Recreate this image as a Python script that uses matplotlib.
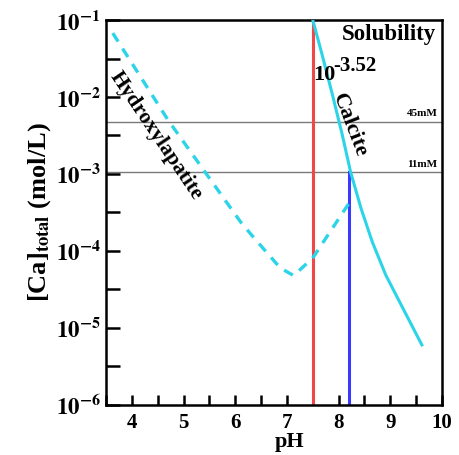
import numpy as np
import matplotlib
matplotlib.use("Agg")
import matplotlib.pyplot as plt

plt.rcParams['font.family'] = ['Liberation Serif', 'DejaVu Serif']
plt.rcParams['font.weight'] = 'bold'
plt.rcParams['mathtext.fontset'] = 'stix'

# values (log10 of [Ca] in mol/L)
calcite_ph = [7.50, 7.68, 7.88, 8.07, 8.23, 8.43, 8.65, 8.91, 9.24, 9.61]
calcite_logca = [-1.00, -1.45, -1.97, -2.49, -2.97, -3.44, -3.88, -4.31, -4.74, -5.22]

hap_ph = [3.63, 4.70, 6.10, 6.35, 6.87, 7.13, 7.50, 8.20]
hap_logca = [-1.17, -2.30, -3.62, -3.82, -4.22, -4.32, -4.09, -3.38]

ref_levels = [4.8e-3, 1.07e-3]
ref_labels = ['45mM', '11mM']

ph_red = 7.5
ph_blue = 8.21
blue_top = 1.07e-3

fig = plt.figure(figsize=(4.59, 4.55), dpi=100)
ax = fig.add_axes([0.231, 0.110, 0.732, 0.846])

cyan = '#2cd4e8'
for lvl, lab in zip(ref_levels, ref_labels):
    ax.axhline(lvl, color='#7a7a7a', lw=1.0, zorder=1)
    ax.text(9.91, lvl * 1.1, lab, fontsize=8, ha='right', va='bottom')

ax.axvline(ph_red, color='#f04848', lw=2.2, zorder=2)
ax.plot([ph_blue, ph_blue], [1e-6, blue_top], color='#3a3aff', lw=2.2, zorder=2)

ax.plot(calcite_ph, 10 ** np.array(calcite_logca), color=cyan, lw=2.2, zorder=3)
ax.plot(hap_ph, 10 ** np.array(hap_logca), color=cyan, lw=2.4, ls=(0, (3, 2.5)), zorder=3)

ax.set_yscale('log')
ax.set_xlim(3.5, 10)
ax.set_ylim(1e-6, 1e-1)

ax.set_xticks([4, 5, 6, 7, 8, 9, 10])
ax.set_xticks([3.5, 4.5, 5.5, 6.5, 7.5, 8.5, 9.5], minor=True)
ax.set_xticklabels(['4', '5', '6', '7', '8', '9', '10'])
yt = [1e-6, 1e-5, 1e-4, 1e-3, 1e-2, 1e-1]
ax.set_yticks(yt)
ax.set_yticklabels([r'$\mathbf{10^{-%d}}$' % k for k in [6, 5, 4, 3, 2, 1]])
ax.set_yticks([10 ** (-k - 0.5) for k in range(1, 6)], minor=True)
ax.yaxis.set_minor_formatter(matplotlib.ticker.NullFormatter())

ax.tick_params(axis='both', which='both', direction='in', length=7, width=1.8,
               top=False, right=False, labelsize=15)
ax.tick_params(axis='y', which='both', length=10, pad=4, labelsize=16.5)
ax.tick_params(axis='x', pad=6)
for lbl in ax.get_xticklabels():
    lbl.set_fontweight('bold')
for s in ax.spines.values():
    s.set_linewidth(1.8)

ax.set_xlabel('pH', fontsize=16, fontweight='bold')
ax.xaxis.set_label_coords(0.545, -0.07)
ax.set_ylabel(r'[Ca]$_{\mathbf{total}}$ (mol/L)', fontsize=19, fontweight='bold', labelpad=2)

ax.text(8.97, 6.4e-2, 'Solubility', fontsize=16.5, fontweight='bold', ha='center', va='center')
ax.text(7.515, 1.93e-2, '10', fontsize=16, fontweight='bold', ha='left', va='center')
ax.text(7.9, 2.55e-2, '-3.52', fontsize=15, fontweight='bold', ha='left', va='center')
ax.text(4.47, 3.1e-3, 'Hydroxylapatite', fontsize=15.5, fontweight='bold', rotation=-56,
        ha='center', va='center', rotation_mode='anchor')
ax.text(8.22, 4.3e-3, 'Calcite', fontsize=16, fontweight='bold', rotation=-69,
        ha='center', va='center', rotation_mode='anchor')

fig.savefig('out.png', dpi=100)
